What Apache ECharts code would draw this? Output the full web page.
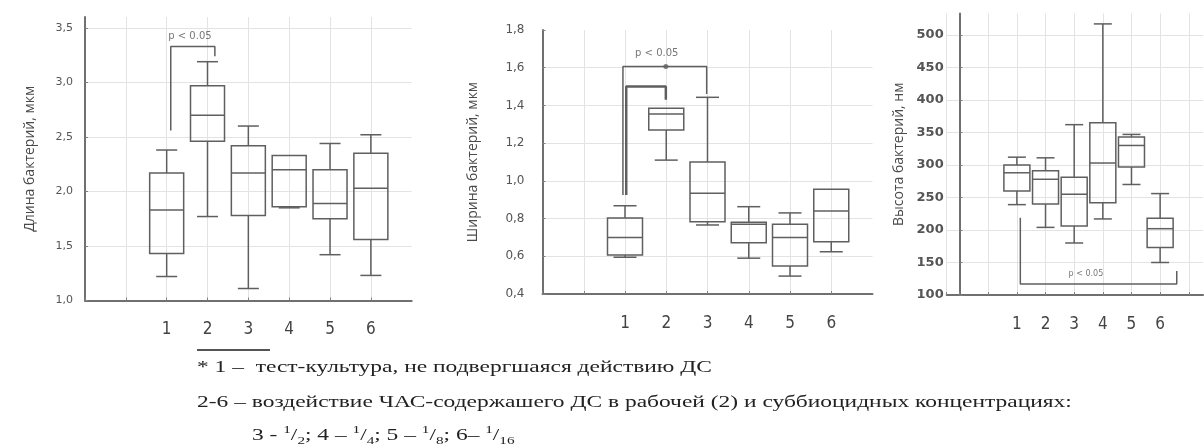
<!DOCTYPE html>
<html><head><meta charset="utf-8">
<script src="https://cdn.jsdelivr.net/npm/echarts@6/dist/echarts.min.js"></script>
<style>html,body{margin:0;padding:0;background:#fff}#c{width:1204px;height:447px}</style>
</head><body><div id="c"></div>
<script>
// ---------- data ----------
const categories = ['1', '2', '3', '4', '5', '6'];
// each box: [lower whisker, Q1, median, Q3, upper whisker]
const lengthBoxes = [
  [1.22, 1.43, 1.83, 2.17, 2.38],
  [1.77, 2.46, 2.70, 2.97, 3.19],
  [1.11, 1.78, 2.17, 2.42, 2.60],
  [1.85, 1.86, 2.20, 2.33, 2.33],
  [1.42, 1.75, 1.89, 2.20, 2.44],
  [1.23, 1.56, 2.03, 2.35, 2.52]
];
const widthBoxes = [
  [0.595, 0.607, 0.70, 0.803, 0.868],
  [1.11, 1.27, 1.355, 1.385, 1.385],
  [0.766, 0.783, 0.934, 1.10, 1.443],
  [0.59, 0.672, 0.77, 0.78, 0.863],
  [0.495, 0.548, 0.70, 0.77, 0.83],
  [0.624, 0.677, 0.84, 0.955, 0.955]
];
const heightBoxes = [
  [239, 260, 288, 300, 312],
  [204, 240, 278, 291, 311],
  [180, 206, 255, 281, 362],
  [217, 242, 303, 365, 517],
  [270, 297, 330, 343, 347],
  [150, 173, 202, 218, 256]
];
const lengthTicks = [1.0, 1.5, 2.0, 2.5, 3.0, 3.5];
const widthTicks = [0.4, 0.6, 0.8, 1.0, 1.2, 1.4, 1.6, 1.8];
const heightTicks = [100, 150, 200, 250, 300, 350, 400, 450, 500];
// significance brackets (axis units)
const lengthBracket = [[2.10, 2.56], [2.10, 3.33], [3.18, 3.33], [3.18, 3.24]];
const widthBracketOuter = [[1.95, 0.925], [1.95, 1.607], [3.98, 1.607], [3.98, 1.46]];
const widthBracketInner = [[2.03, 0.925], [2.03, 1.50], [2.99, 1.50], [2.99, 1.43]];
const widthBracketDot = [[2.99, 1.607]];
const heightBracket = [[2.12, 219], [2.12, 117], [7.58, 117], [7.58, 137]];
const pLabel = 'p < 0.05';
const lengthPLabel = [[2.57, 3.42]];
const widthPLabel = [[2.77, 1.676]];
const heightPLabel = [[4.41, 132]];
const yNames = ['Длина бактерий, мкм', 'Ширина бактерий, мкм', 'Высота бактерий, нм'];
const footLine1 = '* 1 –  тест-культура, не подвергшаяся действию ДС';
const footLine2 = '2-6 – воздействие ЧАС-содержашего ДС в рабочей (2) и суббиоцидных концентрациях:';
const footLine3 = '3 - {n|1}/{d|2}; 4 – {n|1}/{d|4}; 5 – {n|1}/{d|8}; 6– {n|1}/{d|16}';

// ---------- helpers ----------
const BOX_COLOR = '#5f5f5f';
const toBoxData = boxes => boxes.map((b, i) => [i + 2].concat(b));
function boxRenderer(boxW, capW) {
  return function (params, api) {
    const x = api.value(0);
    const pt = i => api.coord([x, api.value(i)]);
    const lo = pt(1), q1 = pt(2), md = pt(3), q3 = pt(4), hi = pt(5);
    const cx = lo[0];
    const st = { stroke: BOX_COLOR, lineWidth: 1.5, fill: 'none' };
    const ch = [
      { type: 'rect', shape: { x: cx - boxW / 2, y: q3[1], width: boxW, height: q1[1] - q3[1] }, style: st },
      { type: 'line', shape: { x1: cx - boxW / 2, y1: md[1], x2: cx + boxW / 2, y2: md[1] }, style: st }
    ];
    if (hi[1] < q3[1] - 0.5) {
      ch.push({ type: 'line', shape: { x1: cx, y1: q3[1], x2: cx, y2: hi[1] }, style: st });
      ch.push({ type: 'line', shape: { x1: cx - capW / 2, y1: hi[1], x2: cx + capW / 2, y2: hi[1] }, style: st });
    }
    if (lo[1] > q1[1] + 0.5) {
      ch.push({ type: 'line', shape: { x1: cx, y1: q1[1], x2: cx, y2: lo[1] }, style: st });
      ch.push({ type: 'line', shape: { x1: cx - capW / 2, y1: lo[1], x2: cx + capW / 2, y2: lo[1] }, style: st });
    }
    return { type: 'group', children: ch };
  };
}
const xFmt = v => {
  const r = Math.round(v);
  if (Math.abs(v - r) > 1e-6) return '';
  const i = r - 2;
  return (i >= 0 && i < categories.length) ? categories[i] : '';
};
const commaFmt = v => v.toFixed(1).replace('.', ',');
const GRID_LINE = { show: true, lineStyle: { color: '#e3e3e3', width: 1 }, showMaxLine: false };
const AXIS_LINE = { show: true, lineStyle: { color: '#707070', width: 2 } };
const TICK = { show: true, inside: true, length: 3, lineStyle: { color: '#808080' } };
const XLABEL = { color: '#444', fontSize: 17, fontFamily: "'Liberation Sans Narrow','DejaVu Sans Condensed',sans-serif", formatter: xFmt, margin: 21, showMinLabel: true, showMaxLabel: false };

function xAxisFor(gridIndex, min, max) {
  const a = { type: 'value', gridIndex, min, max, axisLine: AXIS_LINE, axisTick: TICK, splitLine: GRID_LINE, axisLabel: XLABEL };
  if (Number.isInteger(min)) a.interval = 1; else a.splitNumber = 9;
  return a;
}
function yAxisFor(gridIndex, min, max, interval, name, nameGap, labelStyle) {
  return {
    type: 'value', gridIndex, min, max, interval,
    name, nameLocation: 'middle', nameGap,
    nameTextStyle: { color: '#4a4a4a', fontSize: 14, fontFamily: "'Open Sans',sans-serif" },
    axisLine: AXIS_LINE, axisTick: TICK, splitLine: GRID_LINE,
    axisLabel: Object.assign({ showMaxLabel: false }, labelStyle)
  };
}
function bracketSeries(xi, data, width) {
  return { type: 'line', xAxisIndex: xi, yAxisIndex: xi, data, symbol: 'none', silent: true,
    lineStyle: { color: BOX_COLOR, width: width || 1.5 }, z: 3 };
}
function labelSeries(xi, data, size) {
  return { type: 'scatter', xAxisIndex: xi, yAxisIndex: xi, data, symbolSize: 0, silent: true,
    label: { show: true, position: 'inside', formatter: pLabel, color: '#555', fontSize: size, fontFamily: "'DejaVu Sans',sans-serif" } };
}
const FOOT_FONT = '17px "Liberation Serif"';
const FOOT_SCALE = 1.38;

const option = {
  animation: false,
  backgroundColor: '#fff',
  grid: [
    { left: 85, top: 17, width: 326.7, height: 283.5 },
    { left: 542.5, top: 30, width: 330, height: 264 },
    { left: 946.7, top: 13.5, width: 256.4, height: 281.5 }
  ],
  xAxis: [xAxisFor(0, 0, 8), xAxisFor(1, 0, 8), xAxisFor(2, -0.45, 8.5)],
  yAxis: [
    yAxisFor(0, lengthTicks[0], 3.6, 0.5, yNames[0], 48,
      { color: '#555', fontSize: 11, fontFamily: "'DejaVu Sans',sans-serif", margin: 12, formatter: commaFmt }),
    yAxisFor(1, widthTicks[0], widthTicks[widthTicks.length - 1], 0.2, yNames[1], 62,
      { color: '#555', fontSize: 12, fontFamily: "'DejaVu Sans',sans-serif", margin: 18, formatter: commaFmt, showMaxLabel: true }),
    yAxisFor(2, heightTicks[0], 533, 50, yNames[2], 41,
      { color: '#555', fontSize: 13, fontWeight: 'bold', fontFamily: "'DejaVu Sans',sans-serif", margin: 3, formatter: v => String(v) })
  ],
  series: [
    { type: 'custom', xAxisIndex: 0, yAxisIndex: 0, data: toBoxData(lengthBoxes), encode: { x: 0, y: [1, 2, 3, 4, 5] }, renderItem: boxRenderer(34, 21), z: 4 },
    { type: 'custom', xAxisIndex: 1, yAxisIndex: 1, data: toBoxData(widthBoxes), encode: { x: 0, y: [1, 2, 3, 4, 5] }, renderItem: boxRenderer(35, 23), z: 4 },
    { type: 'custom', xAxisIndex: 2, yAxisIndex: 2, data: toBoxData(heightBoxes), encode: { x: 0, y: [1, 2, 3, 4, 5] }, renderItem: boxRenderer(26, 18), z: 4 },
    bracketSeries(0, lengthBracket),
    bracketSeries(1, widthBracketOuter),
    bracketSeries(1, widthBracketInner, 2.5),
    { type: 'scatter', xAxisIndex: 1, yAxisIndex: 1, data: widthBracketDot, symbolSize: 5, itemStyle: { color: BOX_COLOR }, silent: true, z: 5 },
    bracketSeries(2, heightBracket),
    labelSeries(0, lengthPLabel, 10),
    labelSeries(1, widthPLabel, 10),
    labelSeries(2, heightPLabel, 8)
  ],
  graphic: [
    { type: 'rect', shape: { x: 197, y: 349, width: 73, height: 2 }, style: { fill: '#555' } },
    { type: 'text', x: 197, y: 368, scaleX: FOOT_SCALE, style: { text: footLine1, font: FOOT_FONT, fill: '#222', verticalAlign: 'middle' } },
    { type: 'text', x: 197, y: 403, scaleX: FOOT_SCALE, style: { text: footLine2, font: FOOT_FONT, fill: '#222', verticalAlign: 'middle' } },
    { type: 'text', x: 252, y: 436, scaleX: FOOT_SCALE, style: { text: footLine3, font: FOOT_FONT, fill: '#222', verticalAlign: 'middle', lineHeight: 22,
      rich: { n: { fontSize: 11, fontFamily: 'Liberation Serif', verticalAlign: 'top', lineHeight: 22 }, d: { fontSize: 11, fontFamily: 'Liberation Serif', verticalAlign: 'bottom', lineHeight: 22 } } } }
  ]
};
const chart = echarts.init(document.getElementById('c'), null, { renderer: 'canvas' });
chart.setOption(option);
</script>
</body></html>
